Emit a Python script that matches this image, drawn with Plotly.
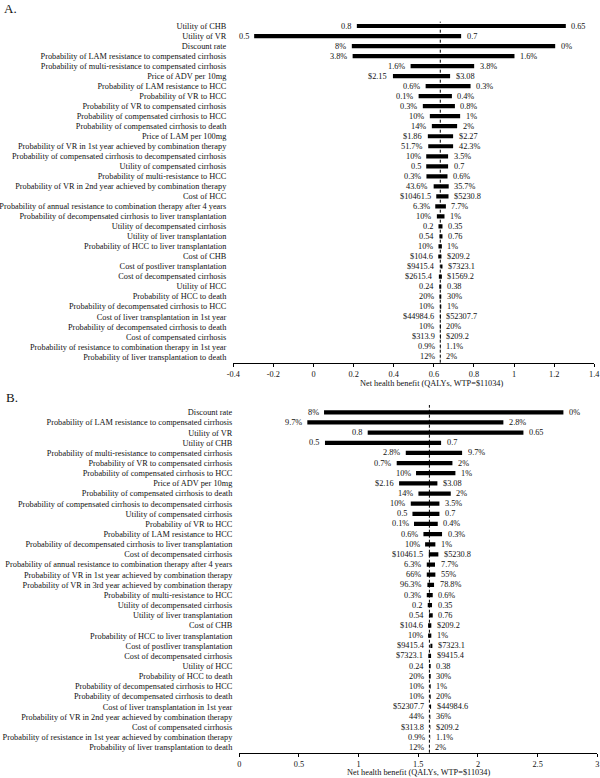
import plotly.graph_objects as go

# ---------------- Panel A data ----------------
A_params = [
    "Utility of CHB",
    "Utility of VR",
    "Discount rate",
    "Probability of LAM resistance to compensated cirrhosis",
    "Probability of multi-resistance to compensated cirrhosis",
    "Price of ADV per 10mg",
    "Probability of LAM resistance to HCC",
    "Probability of VR to HCC",
    "Probability of VR to compensated cirrhosis",
    "Probability of compensated cirrhosis to HCC",
    "Probability of compensated cirrhosis to death",
    "Price of LAM per 100mg",
    "Probability of VR in 1st year achieved by combination therapy",
    "Probability of compensated cirrhosis to decompensated cirrhosis",
    "Utility of compensated cirrhosis",
    "Probability of multi-resistance to HCC",
    "Probability of VR in 2nd year achieved by combination therapy",
    "Cost of HCC",
    "Probability of annual resistance to combination therapy after 4 years",
    "Probability of decompensated cirrhosis to liver transplantation",
    "Utility of decompensated cirrhosis",
    "Utility of liver transplantation",
    "Probability of HCC to liver transplantation",
    "Cost of CHB",
    "Cost of postliver transplantation",
    "Cost of decompensated cirrhosis",
    "Utility of HCC",
    "Probability of HCC to death",
    "Probability of decompensated cirrhosis to HCC",
    "Cost of liver transplantation in 1st year",
    "Probability of decompensated cirrhosis to death",
    "Cost of compensated cirrhosis",
    "Probability of resistance to combination therapy in 1st year",
    "Probability of liver transplantation to death",
]
A_low = [0.216, -0.296, 0.191, 0.195, 0.484, 0.396, 0.559, 0.524, 0.545, 0.580,
         0.590, 0.570, 0.572, 0.562, 0.562, 0.563, 0.599, 0.612, 0.607, 0.615,
         0.623, 0.628, 0.623, 0.622, 0.633, 0.625, 0.627, 0.628, 0.630, 0.630,
         0.630, 0.631, 0.631, 0.6315]
A_high = [1.258, 0.736, 1.205, 1.002, 0.801, 0.681, 0.783, 0.690, 0.705, 0.731,
          0.716, 0.696, 0.696, 0.671, 0.671, 0.668, 0.674, 0.673, 0.660, 0.653,
          0.643, 0.643, 0.640, 0.638, 0.643, 0.640, 0.637, 0.637, 0.637, 0.635,
          0.635, 0.635, 0.633, 0.6325]
A_low_lbl = ["0.8", "0.5", "8%", "3.8%", "1.6%", "$2.15", "0.6%", "0.1%", "0.3%", "10%",
             "14%", "$1.86", "51.7%", "10%", "0.5", "0.3%", "43.6%", "$10461.5", "6.3%", "10%",
             "0.2", "0.54", "10%", "$104.6", "$9415.4", "$2615.4", "0.24", "20%", "10%", "$44984.6",
             "10%", "$313.9", "0.9%", "12%"]
A_high_lbl = ["0.65", "0.7", "0%", "1.6%", "3.8%", "$3.08", "0.3%", "0.4%", "0.8%", "1%",
              "2%", "$2.27", "42.3%", "3.5%", "0.7", "0.6%", "35.7%", "$5230.8", "7.7%", "1%",
              "0.35", "0.76", "1%", "$209.2", "$7323.1", "$1569.2", "0.38", "30%", "1%", "$52307.7",
              "20%", "$209.2", "1.1%", "2%"]
A_base = 0.632
A_ticks = [-0.4, -0.2, 0, 0.2, 0.4, 0.6, 0.8, 1, 1.2, 1.4]
A_ticklbl = ["-0.4", "-0.2", "0", "0.2", "0.4", "0.6", "0.8", "1", "1.2", "1.4"]

# ---------------- Panel B data ----------------
B_params = [
    "Discount rate",
    "Probability of LAM resistance to compensated cirrhosis",
    "Utility of VR",
    "Utility of CHB",
    "Probability of multi-resistance to compensated cirrhosis",
    "Probability of VR to compensated cirrhosis",
    "Probability of compensated cirrhosis to HCC",
    "Price of ADV per 10mg",
    "Probability of compensated cirrhosis to death",
    "Probability of compensated cirrhosis to decompensated cirrhosis",
    "Utility of compensated cirrhosis",
    "Probability of VR to HCC",
    "Probability of LAM resistance to HCC",
    "Probability of decompensated cirrhosis to liver transplantation",
    "Cost of decompensated cirrhosis",
    "Probability of annual resistance to combination therapy after 4 years",
    "Probability of VR in 1st year achieved by combination therapy",
    "Probability of VR in 3rd year achieved by combination therapy",
    "Probability of multi-resistance to HCC",
    "Utility of decompensated cirrhosis",
    "Utility of liver transplantation",
    "Cost of CHB",
    "Probability of HCC to liver transplantation",
    "Cost of postliver transplantation",
    "Cost of decompensated cirrhosis",
    "Utility of HCC",
    "Probability of HCC to death",
    "Probability of decompensated cirrhosis to HCC",
    "Probability of decompensated cirrhosis to death",
    "Cost of liver transplantation in 1st year",
    "Probability of VR in 2nd year achieved by combination therapy",
    "Cost of compensated cirrhosis",
    "Probability of resistance in 1st year achieved by combination therapy",
    "Probability of liver transplantation to death",
]
B_low = [0.710, 0.570, 1.076, 0.718, 1.395, 1.319, 1.481, 1.339, 1.501, 1.437,
         1.451, 1.464, 1.543, 1.557, 1.588, 1.571, 1.571, 1.576, 1.571, 1.579,
         1.590, 1.582, 1.582, 1.601, 1.584, 1.590, 1.590, 1.596, 1.596, 1.598,
         1.596, 1.598, 1.5985, 1.5925]
B_high = [2.716, 2.213, 2.381, 1.691, 1.867, 1.786, 1.811, 1.660, 1.772, 1.677,
          1.677, 1.663, 1.699, 1.643, 1.668, 1.640, 1.643, 1.632, 1.621, 1.615,
          1.621, 1.609, 1.609, 1.618, 1.607, 1.604, 1.604, 1.604, 1.604, 1.607,
          1.601, 1.601, 1.600, 1.5935]
B_low_lbl = ["8%", "9.7%", "0.8", "0.5", "2.8%", "0.7%", "10%", "$2.16", "14%", "10%",
             "0.5", "0.1%", "0.6%", "10%", "$10461.5", "6.3%", "66%", "96.3%", "0.3%", "0.2",
             "0.54", "$104.6", "10%", "$9415.4", "$7323.1", "0.24", "20%", "10%", "10%", "$52307.7",
             "44%", "$313.8", "0.9%", "12%"]
B_high_lbl = ["0%", "2.8%", "0.65", "0.7", "9.7%", "2%", "1%", "$3.08", "2%", "3.5%",
              "0.7", "0.4%", "0.3%", "1%", "$5230.8", "7.7%", "55%", "78.8%", "0.6%", "0.35",
              "0.76", "$209.2", "1%", "$7323.1", "$9415.4", "0.38", "30%", "1%", "20%", "$44984.6",
              "36%", "$209.2", "1.1%", "2%"]
B_base = 1.593
B_ticks = [0, 0.5, 1, 1.5, 2, 2.5, 3]
B_ticklbl = ["0", "0.5", "1", "1.5", "2", "2.5", "3"]

AXIS_TITLE = "Net health benefit (QALYs, WTP=$11034)"

FONT = "Liberation Serif, Times New Roman, serif"
FS = 8.3
TXT = "#111111"
W, H = 600, 778

fig = go.Figure()
annotations = []


def add_panel(params, low, high, llbl, hlbl, xa, ya):
    idx = list(range(len(params)))
    fig.add_trace(go.Bar(
        y=idx, x=[h - l for l, h in zip(low, high)], base=low,
        orientation="h", width=0.42, marker=dict(color="black", line=dict(width=0)),
        xaxis=xa, yaxis=ya, showlegend=False, hoverinfo="skip"))
    for i, (l, h, lt, ht) in enumerate(zip(low, high, llbl, hlbl)):
        annotations.append(dict(text=lt, x=l, y=i, xref=xa, yref=ya, xanchor="right",
                                yanchor="middle", xshift=-3.5, showarrow=False,
                                font=dict(family=FONT, size=FS, color=TXT)))
        annotations.append(dict(text=ht, x=h, y=i, xref=xa, yref=ya, xanchor="left",
                                yanchor="middle", xshift=3.5, showarrow=False,
                                font=dict(family=FONT, size=FS, color=TXT)))


add_panel(A_params, A_low, A_high, A_low_lbl, A_high_lbl, "x", "y")
add_panel(B_params, B_low, B_high, B_low_lbl, B_high_lbl, "x2", "y2")


def px_x(p):
    return p / W


def px_y(p):
    return 1 - p / H


xcommon = dict(showline=True, linecolor="black", linewidth=1, ticks="outside",
               ticklen=3, tickcolor="black", tickwidth=1, showgrid=False, zeroline=False,
               tickfont=dict(family=FONT, size=FS, color=TXT), fixedrange=True,
               automargin=False, ticklabeloverflow="allow")
ycommon = dict(showline=False, ticks="", showgrid=False, zeroline=False,
               tickfont=dict(family=FONT, size=FS, color=TXT), tickmode="array",
               ticklabelstandoff=6, fixedrange=True, automargin=False,
               ticklabeloverflow="allow")

annotations += [
    dict(text="A.", x=px_x(2), y=px_y(9), xref="paper", yref="paper", xanchor="left",
         yanchor="middle", showarrow=False, font=dict(family=FONT, size=13, color=TXT)),
    dict(text="B.", x=px_x(4), y=px_y(398), xref="paper", yref="paper", xanchor="left",
         yanchor="middle", showarrow=False, font=dict(family=FONT, size=13, color=TXT)),
    dict(text=AXIS_TITLE, x=px_x(431), y=px_y(383.5), xref="paper", yref="paper",
         xanchor="center", yanchor="middle", showarrow=False,
         font=dict(family=FONT, size=FS, color=TXT)),
    dict(text=AXIS_TITLE, x=px_x(418.3), y=px_y(772.3), xref="paper", yref="paper",
         xanchor="center", yanchor="middle", showarrow=False,
         font=dict(family=FONT, size=FS, color=TXT)),
]

fig.update_layout(
    template="none",
    width=W, height=H, autosize=False,
    margin=dict(l=0, r=0, t=0, b=0, pad=0),
    paper_bgcolor="white", plot_bgcolor="white",
    barmode="overlay",
    font=dict(family=FONT, size=FS, color=TXT),
    xaxis=dict(domain=[px_x(233.3), px_x(594.3)], range=[-0.4, 1.4], anchor="y",
               tickmode="array", tickvals=A_ticks, ticktext=A_ticklbl, **xcommon),
    yaxis=dict(domain=[px_y(362.7), px_y(21.7)], range=[33.6, -0.43], anchor="x",
               tickvals=list(range(len(A_params))), ticktext=A_params, **ycommon),
    xaxis2=dict(domain=[px_x(239.3), px_x(597.3)], range=[0, 3], anchor="y2",
                tickmode="array", tickvals=B_ticks, ticktext=B_ticklbl, **xcommon),
    yaxis2=dict(domain=[px_y(752.7), px_y(405)], range=[33.53, -0.72], anchor="x2",
                tickvals=list(range(len(B_params))), ticktext=B_params, **ycommon),
    shapes=[
        dict(type="line", xref="x", yref="y domain", x0=A_base, x1=A_base, y0=0, y1=1,
             line=dict(color="black", width=1, dash="3px,2px")),
        dict(type="line", xref="x2", yref="y2 domain", x0=B_base, x1=B_base, y0=0, y1=1,
             line=dict(color="black", width=1, dash="3px,2px")),
    ],
    annotations=annotations,
)

fig.write_html(
    "out.html",
    config={"displayModeBar": False, "staticPlot": True},
    post_script="document.body.style.margin='0px';document.body.style.overflow='hidden';",
)
